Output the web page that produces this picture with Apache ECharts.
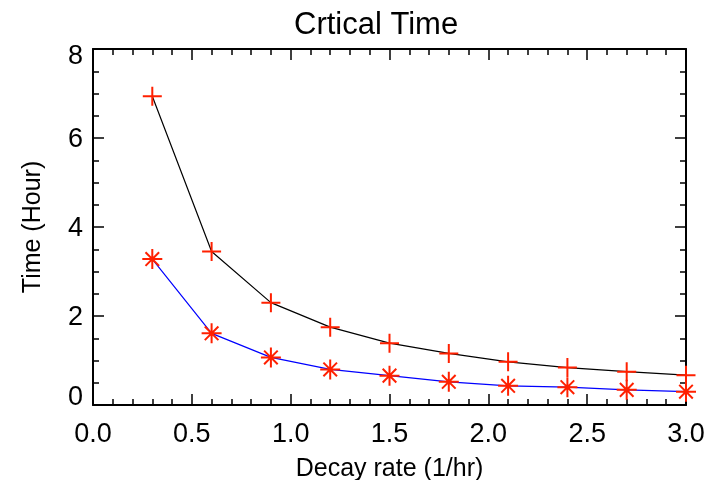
<!DOCTYPE html>
<html>
<head>
<meta charset="utf-8">
<script src="https://cdn.jsdelivr.net/npm/echarts@6/dist/echarts.min.js"></script>
<style>html,body{margin:0;padding:0;background:#fff;}#c{width:715px;height:480px;}</style>
</head>
<body>
<div id="c"></div>
<script>
var decayRates = [0.3, 0.6, 0.9, 1.2, 1.5, 1.8, 2.1, 2.4, 2.7, 3.0];
var timeUpper = [6.94, 3.45, 2.30, 1.75, 1.39, 1.16, 0.97, 0.84, 0.75, 0.67];
var timeLower = [3.28, 1.61, 1.07, 0.80, 0.66, 0.52, 0.43, 0.40, 0.34, 0.30];
var titleText = 'Crtical Time';
var xName = 'Decay rate (1/hr)';
var yName = 'Time (Hour)';

var FONT = 'Liberation Sans';
var chart = echarts.init(document.getElementById('c'), null, {renderer: 'canvas'});
function pairs(xs, ys) { return xs.map(function (x, i) { return [x, ys[i]]; }); }
var plusPath = 'path://M0,5L10,5M5,0L5,10';
var starPath = 'path://M0,5L10,5M5,0L5,10M1.6,1.6L8.4,8.4M1.6,8.4L8.4,1.6';

var axisCommonX = {
  type: 'value', min: 0, max: 3, interval: 0.5,
  axisLine: {show: true, onZero: false, lineStyle: {color: '#000', width: 2}},
  axisTick: {show: true, inside: true, length: 11, lineStyle: {color: '#000', width: 1.5}},
  minorTick: {show: true, splitNumber: 5, length: 6, lineStyle: {color: '#000', width: 1.5}},
  splitLine: {show: false}
};
var axisCommonY = {
  type: 'value', min: 0, max: 8, interval: 2,
  axisLine: {show: true, onZero: false, lineStyle: {color: '#000', width: 2}},
  axisTick: {show: true, inside: true, length: 11, lineStyle: {color: '#000', width: 1.5}},
  minorTick: {show: true, splitNumber: 4, length: 6, lineStyle: {color: '#000', width: 1.5}},
  splitLine: {show: false}
};

chart.setOption({
  animation: false,
  backgroundColor: '#fff',
  title: {
    text: titleText, left: 289, top: 5,
    textStyle: {fontFamily: FONT, fontSize: 31, fontWeight: 'normal', color: '#000'}
  },
  grid: {left: 93, right: 29, top: 49, bottom: 75, containLabel: false, outerBoundsMode: 'none'},
  xAxis: [
    Object.assign({}, axisCommonX, {
      position: 'bottom',
      name: xName, nameLocation: 'middle', nameGap: 52,
      nameTextStyle: {fontFamily: FONT, fontSize: 25, color: '#000'},
      axisLabel: {show: true, margin: 16, fontFamily: FONT, fontSize: 27, color: '#000',
        formatter: function (v) { return v.toFixed(1); }}
    }),
    Object.assign({}, axisCommonX, {position: 'top', axisLabel: {show: false}})
  ],
  yAxis: [
    Object.assign({}, axisCommonY, {
      position: 'left',
      name: yName, nameLocation: 'middle', nameGap: 47,
      nameTextStyle: {fontFamily: FONT, fontSize: 25, color: '#000'},
      axisLabel: {show: true, margin: 10, fontFamily: FONT, fontSize: 27, color: '#000',
        formatter: function (v) {
          if (v === 8) return '{top|' + v + '}';
          if (v === 0) return '{bot|' + v + '}';
          return '{mid|' + v + '}';
        },
        rich: {
          top: {fontFamily: FONT, fontSize: 27, color: '#000', padding: [16, 0, 0, 0]},
          bot: {fontFamily: FONT, fontSize: 27, color: '#000', padding: [0, 0, 14, 0]},
          mid: {fontFamily: FONT, fontSize: 27, color: '#000', padding: [4, 0, 0, 0]}
        }
      }
    }),
    Object.assign({}, axisCommonY, {position: 'right', axisLabel: {show: false}})
  ],
  series: [
    {
      type: 'line', name: 'upper', xAxisIndex: 0, yAxisIndex: 0,
      data: pairs(decayRates, timeUpper),
      lineStyle: {color: '#000', width: 1.2},
      symbol: plusPath, symbolSize: 19, showAllSymbol: true,
      itemStyle: {color: 'rgba(0,0,0,0)', borderColor: '#ff2000', borderWidth: 2},
      clip: true, z: 3
    },
    {
      type: 'line', name: 'lower', xAxisIndex: 0, yAxisIndex: 0,
      data: pairs(decayRates, timeLower),
      lineStyle: {color: '#0000ff', width: 1.2},
      symbol: starPath, symbolSize: 20, showAllSymbol: true,
      itemStyle: {color: 'rgba(0,0,0,0)', borderColor: '#ff2000', borderWidth: 2},
      clip: true, z: 3
    }
  ]
});
</script>
</body>
</html>
